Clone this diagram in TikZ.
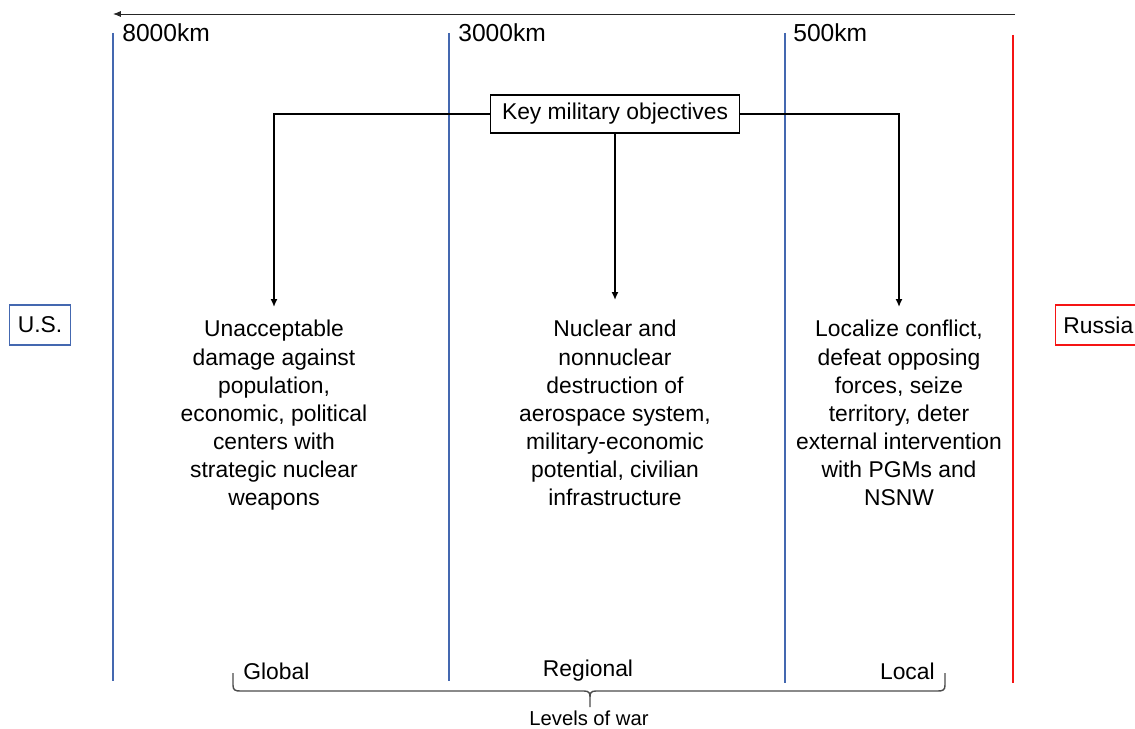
\documentclass[tikz,border=0pt]{standalone}
\usepackage{fontspec}
\setmainfont{Liberation Sans}
\usetikzlibrary{arrows.meta,positioning}
\definecolor{lineblue}{RGB}{68,104,176}
\definecolor{linered}{RGB}{245,20,20}

\begin{document}
\begin{tikzpicture}[
  x=0.02cm, y=-0.02cm,
  font=\fontsize{13}{16}\selectfont,
  rangeline/.style ={lineblue, line width=1pt},
  km/.style    ={anchor=base west, inner sep=0pt, font=\fontsize{14}{16}\selectfont},
  key/.style   ={draw, line width=0.6pt, minimum height=7.6mm, inner xsep=6.5pt},
  side/.style  ={draw, line width=0.6pt, minimum height=8mm, inner xsep=4.5pt},
  goal/.style  ={align=center, anchor=north, inner sep=0pt},
  ar/.style    ={-{Latex[length=4.5pt,width=4pt]}, line width=1.1pt},
  lvl/.style   ={anchor=base, inner sep=0pt},
]
\useasboundingbox (0,0) rectangle (1135,729);

% --- distance axis ---
\coordinate (far)  at (113,14);
\coordinate (near) at (1015,14);
\draw[-{Latex[length=4.5pt,width=3.5pt]}, line width=0.5pt, black!85] (near) -- (far);

% --- range lines ---
\draw[rangeline] (113,33) -- (113,681);
\draw[rangeline] (449,33) -- (449,681);
\draw[rangeline] (785,33) -- (785,683);
\draw[linered, line width=1.2pt] (1013,35) -- (1013,683);

\node[km] (r8000) at (122,42) {8000km};
\node[km] (r3000) at (458,42) {3000km};
\node[km] (r500)  at (793,42) {500km};

% --- sides ---
\node[side, draw=lineblue] (us) at (40,325) {U.S.};
\node[side, draw=linered, anchor=west] (ru) at (1055,325) {Russia};

% --- objectives ---
\node[key] (key) at (615,114) {Key military objectives};

\node[goal] (glob) at (274,320) {Unacceptable\\damage against\\population,\\economic, political\\centers with\\strategic nuclear\\weapons};
\node[goal] (reg)  at (615,320) {Nuclear and\\nonnuclear\\destruction of\\aerospace system,\\military-economic\\potential, civilian\\infrastructure};
\node[goal] (loc)  at (899,320) {Localize conflict,\\defeat opposing\\forces, seize\\territory, deter\\external intervention\\with PGMs and\\NSNW};

\draw[ar, shorten >=0.26cm] (key.west)  -| (glob.north);
\draw[ar, shorten >=0.4cm]  (key.south) -- (reg.north);
\draw[ar, shorten >=0.26cm] (key.east)  -| (loc.north);

% --- levels of war ---
\node[lvl, anchor=base west] (lglob) at (243,679) {Global};
\node[lvl] (lreg) at (588,676) {Regional};
\node[lvl, anchor=base east] (lloc) at (935,679) {Local};

\draw[black!70, line width=0.8pt]
  (233,673) -- (233,685) .. controls (233,690) and (235,691) .. (240,691)
  -- (584,691) .. controls (589,691) and (590,693) .. (590,697) -- (590,707)
  (590,697) .. controls (590,693) and (591,691) .. (596,691)
  -- (938,691) .. controls (943,691) and (945,690) .. (945,685) -- (945,673);
\node[lvl, font=\fontsize{11.5}{14}\selectfont] (levels) at (589,725) {Levels of war};
\end{tikzpicture}
\end{document}
